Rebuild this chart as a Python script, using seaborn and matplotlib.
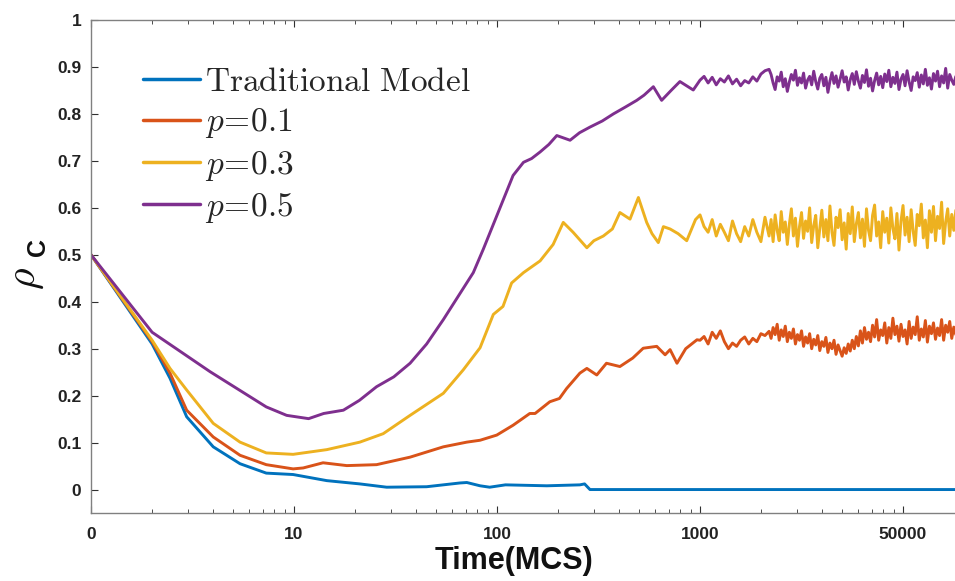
import numpy as np
import pandas as pd
import matplotlib
matplotlib.use("Agg")
import matplotlib.pyplot as plt
import seaborn as sns
from matplotlib.ticker import FixedLocator, FixedFormatter, LogLocator, NullFormatter

sns.set_theme(style="ticks")
plt.rcParams["font.family"] = ["Liberation Sans", "DejaVu Sans"]
plt.rcParams["mathtext.fontset"] = "cm"

# ---------------- data ----------------
series_names = ["Traditional Model", "p=0.1", "p=0.3", "p=0.5"]
legend_labels = [r"$\mathrm{Traditional\ Model}$", r"$p\!=\!0.1$", r"$p\!=\!0.3$", r"$p\!=\!0.5$"]
colors = ["#0072BD", "#D95319", "#EDB120", "#7E2F8E"]

mid_t = [1000, 1047, 1096, 1148, 1202, 1259, 1318, 1380, 1445, 1514, 1585, 1660,
         1738, 1820, 1905, 1995, 2089]

tail_t = [2188, 2239, 2291, 2344, 2399, 2455, 2512, 2570, 2630, 2692, 2754, 2818, 2884,
          2951, 3020, 3090, 3162, 3236, 3311, 3388, 3467, 3548, 3631, 3715, 3802, 3890,
          3981, 4074, 4169, 4266, 4365, 4467, 4571, 4677, 4786, 4898, 5012, 5129, 5248,
          5370, 5495, 5623, 5754, 5888, 6026, 6166, 6310, 6457, 6607, 6761, 6918, 7079,
          7244, 7413, 7586, 7762, 7943, 8128, 8318, 8511, 8710, 8913, 9120, 9333, 9550,
          9772, 10000, 10233, 10471, 10715, 10965, 11220, 11482, 11749, 12023, 12303,
          12589, 12882, 13183, 13490, 13804, 14125, 14454, 14791, 15136, 15488, 15849,
          16218, 16596, 16982, 17378, 17783, 18197]

trad_t = [1, 2, 2.45, 2.96, 4.0, 5.42, 7.3, 9.9, 14.5, 21.1, 28.6, 45, 65.6, 71,
          82.5, 92, 110, 176, 256, 270, 287, 18197]
trad_v = [0.5, 0.31, 0.237, 0.155, 0.091, 0.055, 0.035, 0.032, 0.019, 0.012, 0.005,
          0.006, 0.014, 0.015, 0.008, 0.005, 0.010, 0.008, 0.010, 0.012, 0.0, 0.0]

p1_t = [1, 2, 2.45, 2.96, 4.0, 5.42, 7.3, 9.9, 11.1, 13.9, 18.2, 25.5, 37.3, 54.4, 71,
        82.5, 99.7, 120, 145, 154, 182, 203, 220, 256, 277, 310, 346, 403, 466, 525,
        612, 673, 712, 770, 850, 966]
p1_v = [0.5, 0.315, 0.248, 0.169, 0.112, 0.073, 0.053, 0.044, 0.046, 0.057, 0.051,
        0.053, 0.069, 0.091, 0.101, 0.105, 0.116, 0.137, 0.162, 0.162, 0.187, 0.194,
        0.215, 0.248, 0.258, 0.244, 0.269, 0.262, 0.280, 0.301, 0.305, 0.287, 0.298,
        0.269, 0.300, 0.319]
p1_mid = [0.318, 0.326, 0.310, 0.335, 0.322, 0.338, 0.315, 0.300, 0.312, 0.305, 0.318,
          0.325, 0.310, 0.322, 0.315, 0.332, 0.328]
p1_tail = [0.337, 0.322, 0.345, 0.330, 0.352, 0.318, 0.340, 0.326, 0.348, 0.315, 0.335,
           0.322, 0.342, 0.310, 0.330, 0.318, 0.338, 0.305, 0.325, 0.312,
           0.332, 0.300, 0.320, 0.308, 0.328, 0.296, 0.315, 0.305, 0.324, 0.292, 0.312,
           0.300, 0.318, 0.288, 0.308, 0.296, 0.284, 0.302, 0.290, 0.310,
           0.295, 0.318, 0.300, 0.326, 0.306, 0.338, 0.312, 0.345, 0.320, 0.335, 0.315,
           0.350, 0.325, 0.362, 0.318, 0.340, 0.328, 0.355, 0.312, 0.345,
           0.322, 0.365, 0.330, 0.348, 0.316, 0.352, 0.326, 0.340, 0.310, 0.358, 0.322,
           0.346, 0.330, 0.368, 0.318, 0.342, 0.325, 0.360, 0.314, 0.348,
           0.332, 0.355, 0.320, 0.344, 0.328, 0.362, 0.318, 0.350, 0.335, 0.358, 0.322,
           0.346, 0.330]

p3_t = [1, 2, 2.45, 2.96, 4.0, 5.42, 7.3, 9.9, 14.5, 21.1, 27.5, 37.3, 54.4, 68.2, 82.5,
        95.9, 107, 118, 135, 163, 189, 212, 237, 277, 300, 334, 370, 403, 452, 497,
        546, 580, 623, 660, 712, 780, 860, 950]
p3_v = [0.5, 0.318, 0.258, 0.212, 0.141, 0.101, 0.078, 0.075, 0.085, 0.101, 0.119,
        0.158, 0.205, 0.255, 0.302, 0.373, 0.390, 0.440, 0.462, 0.487, 0.522, 0.569,
        0.548, 0.515, 0.530, 0.540, 0.555, 0.590, 0.576, 0.622, 0.569, 0.545, 0.526,
        0.560, 0.555, 0.545, 0.530, 0.575]
p3_mid = [0.585, 0.560, 0.548, 0.575, 0.540, 0.565, 0.548, 0.530, 0.572, 0.545, 0.528,
          0.560, 0.540, 0.575, 0.548, 0.528, 0.580]
p3_tail = [0.540, 0.575, 0.528, 0.585, 0.552, 0.530, 0.592, 0.548, 0.570, 0.522, 0.565,
           0.598, 0.540, 0.578, 0.518, 0.560, 0.590, 0.535, 0.572, 0.550,
           0.600, 0.526, 0.562, 0.584, 0.515, 0.556, 0.595, 0.538, 0.575, 0.530, 0.604,
           0.548, 0.520, 0.580, 0.558, 0.596, 0.532, 0.568, 0.512, 0.588,
           0.545, 0.602, 0.528, 0.566, 0.590, 0.536, 0.576, 0.518, 0.598, 0.552, 0.530,
           0.584, 0.606, 0.540, 0.570, 0.515, 0.592, 0.548, 0.578, 0.525,
           0.600, 0.556, 0.534, 0.588, 0.510, 0.572, 0.605, 0.542, 0.580, 0.528, 0.596,
           0.550, 0.520, 0.586, 0.562, 0.608, 0.536, 0.574, 0.515, 0.594,
           0.548, 0.603, 0.530, 0.582, 0.556, 0.612, 0.524, 0.570, 0.598, 0.540, 0.586,
           0.552, 0.595]

p5_t = [1, 2, 3.86, 7.3, 9.2, 11.8, 14, 17.5, 21, 25.5, 31, 37.3, 45, 54.4, 64, 76.4,
        85.6, 99.7, 120, 135, 148, 163, 180, 197, 229, 255, 287, 330, 374, 430, 488,
        530, 589, 647, 720, 796, 926]
p5_v = [0.5, 0.335, 0.251, 0.176, 0.158, 0.151, 0.162, 0.169, 0.190, 0.219, 0.240,
        0.269, 0.310, 0.362, 0.410, 0.462, 0.512, 0.583, 0.669, 0.697, 0.705, 0.719,
        0.735, 0.754, 0.744, 0.760, 0.772, 0.785, 0.800, 0.815, 0.829, 0.840, 0.858,
        0.829, 0.850, 0.869, 0.851]
p5_mid = [0.872, 0.880, 0.866, 0.878, 0.862, 0.875, 0.868, 0.881, 0.864, 0.874, 0.860,
          0.871, 0.866, 0.879, 0.870, 0.885, 0.892]
p5_tail = [0.895, 0.884, 0.866, 0.852, 0.879, 0.870, 0.889, 0.858, 0.875, 0.848, 0.868,
           0.884, 0.872, 0.893, 0.861, 0.877, 0.866, 0.887, 0.855, 0.872,
           0.880, 0.862, 0.891, 0.869, 0.853, 0.876, 0.884, 0.860, 0.878, 0.846, 0.870,
           0.888, 0.865, 0.881, 0.857, 0.874, 0.892, 0.868, 0.879, 0.851,
           0.873, 0.886, 0.863, 0.890, 0.870, 0.855, 0.882, 0.867, 0.894, 0.859, 0.876,
           0.849, 0.871, 0.887, 0.862, 0.880, 0.856, 0.885, 0.869, 0.893,
           0.858, 0.878, 0.865, 0.889, 0.852, 0.874, 0.884, 0.860, 0.892, 0.868, 0.850,
           0.879, 0.871, 0.888, 0.857, 0.883, 0.864, 0.895, 0.861, 0.877,
           0.853, 0.886, 0.870, 0.891, 0.858, 0.881, 0.866, 0.897, 0.855, 0.884, 0.872,
           0.863, 0.880]

x_ticks = [1, 10, 100, 1000, 10000]
x_ticklabels = ["0", "10", "100", "1000", "50000"]
y_ticks = [0, 0.1, 0.2, 0.3, 0.4, 0.5, 0.6, 0.7, 0.8, 0.9, 1.0]
y_ticklabels = ["0", "0.1", "0.2", "0.3", "0.4", "0.5", "0.6", "0.7", "0.8", "0.9", "1"]

# ---------------- build table ----------------
frames = [
    pd.DataFrame({"t": trad_t, "rho": trad_v, "model": series_names[0]}),
    pd.DataFrame({"t": p1_t + mid_t + tail_t, "rho": p1_v + p1_mid + p1_tail,
                  "model": series_names[1]}),
    pd.DataFrame({"t": p3_t + mid_t + tail_t, "rho": p3_v + p3_mid + p3_tail,
                  "model": series_names[2]}),
    pd.DataFrame({"t": p5_t + mid_t + tail_t, "rho": p5_v + p5_mid + p5_tail,
                  "model": series_names[3]}),
]
df = pd.concat(frames, ignore_index=True)

# ---------------- figure ----------------
fig = plt.figure(figsize=(9.55, 5.81), dpi=100)
ax = fig.add_axes([0.0953, 0.117, 0.9047, 0.8485])

sns.lineplot(data=df, x="t", y="rho", hue="model", hue_order=series_names,
             palette=dict(zip(series_names, colors)), linewidth=2.1, ax=ax,
             estimator=None, sort=True)

ax.set_xscale("log")
ax.set_xlim(1, 18030)
ax.set_ylim(-0.05, 1.0)

ax.xaxis.set_major_locator(FixedLocator(x_ticks))
ax.xaxis.set_major_formatter(FixedFormatter(x_ticklabels))
ax.xaxis.set_minor_locator(LogLocator(base=10, subs=np.arange(2, 10)))
ax.xaxis.set_minor_formatter(NullFormatter())
ax.yaxis.set_major_locator(FixedLocator(y_ticks))
ax.yaxis.set_major_formatter(FixedFormatter(y_ticklabels))

spine_col = "#808080"
for s in ["left", "bottom", "top"]:
    ax.spines[s].set_color(spine_col)
    ax.spines[s].set_linewidth(1.0)
ax.spines["right"].set_visible(False)

ax.tick_params(axis="both", which="both", direction="in", color="#303030",
               top=True, right=False)
ax.tick_params(axis="x", which="major", length=5, width=0.8, pad=10)
ax.tick_params(axis="x", which="minor", length=3, width=0.6)
ax.tick_params(axis="y", which="major", length=5, width=0.8, pad=7)
for lab in ax.get_xticklabels() + ax.get_yticklabels():
    lab.set_fontweight("bold")
    lab.set_fontsize(12.5)
    lab.set_color("#222222")

ax.set_xlabel("Time(MCS)", fontsize=22, fontweight="bold", color="#111111")
ax.xaxis.set_label_coords(0.49, -0.066)
ax.set_ylabel("")
ax.text(-0.075, 0.475, r"$\rho$", transform=ax.transAxes, rotation=90, fontsize=30,
        color="#111111", ha="center", va="center")
ax.text(-0.061, 0.54, "C", transform=ax.transAxes, rotation=90, fontsize=18,
        fontweight="bold", color="#111111", ha="center", va="center")

handles, _ = ax.get_legend_handles_labels()
leg = ax.legend(handles, legend_labels, loc="upper left",
                bbox_to_anchor=(0.045, 0.932), frameon=False, fontsize=24,
                handlelength=1.7, handletextpad=0.15, labelspacing=0.25,
                borderaxespad=0.0)
for line in leg.get_lines():
    line.set_linewidth(2.5)

fig.savefig("out.png", dpi=100)
